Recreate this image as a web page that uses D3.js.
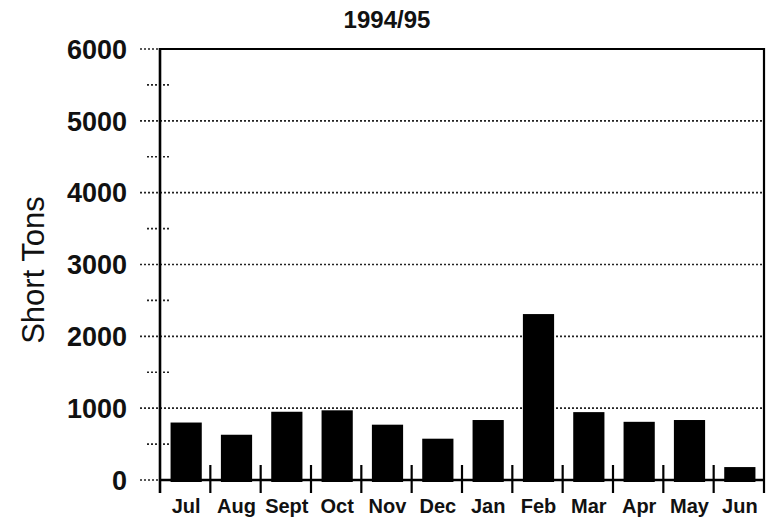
<!DOCTYPE html>
<html>
<head>
<meta charset="utf-8">
<script src="https://cdn.jsdelivr.net/npm/d3@7"></script>
<style>
  body { margin: 0; background: #fff; }
  text { font-family: "Liberation Sans", Arial, sans-serif; fill: #111; }
</style>
</head>
<body>
<script>
// monthly shipments, 1994/95 season
var months = ["Jul", "Aug", "Sept", "Oct", "Nov", "Dec", "Jan", "Feb", "Mar", "Apr", "May", "Jun"];
var tons = [800, 630, 950, 970, 770, 575, 835, 2310, 945, 810, 835, 180];
var majorTicks = [0, 1000, 2000, 3000, 4000, 5000, 6000];
var minorTicks = [500, 1500, 2500, 3500, 4500, 5500];

var width = 768, height = 522;
// note: "top" is reserved on window, so use plot* names
var plotLeft = 160, plotRight = 764, plotTop = 49, plotBottom = 480;

var svg = d3.select("body").append("svg")
    .attr("width", width)
    .attr("height", height);

var x = d3.scaleBand()
    .domain(months)
    .range([plotLeft, plotRight]);

var y = d3.scaleLinear()
    .domain([0, 6000])
    .range([plotBottom, plotTop]);

// dotted gridlines
svg.selectAll(".grid")
    .data(majorTicks)
    .enter().append("line")
    .attr("x1", 140)
    .attr("x2", function(d) { return (d == 0 || d == 6000) ? plotLeft : plotRight; })
    .attr("y1", function(d) { return y(d); })
    .attr("y2", function(d) { return y(d); })
    .attr("stroke", "#222")
    .attr("stroke-width", 1.6)
    .attr("stroke-dasharray", "2,2");

svg.selectAll(".minor")
    .data(minorTicks)
    .enter().append("line")
    .attr("x1", 147)
    .attr("x2", 171)
    .attr("y1", function(d) { return y(d); })
    .attr("y2", function(d) { return y(d); })
    .attr("stroke", "#222")
    .attr("stroke-width", 1.6)
    .attr("stroke-dasharray", "2,2");

// bars
var barW = x.bandwidth() * 0.62;
svg.selectAll(".bar")
    .data(tons)
    .enter().append("rect")
    .attr("x", function(d, i) { return x(months[i]) + (x.bandwidth() - barW) / 2 + 1; })
    .attr("y", function(d) { return y(d); })
    .attr("width", barW)
    .attr("height", function(d) { return y(0) - y(d) + 2; })
    .attr("fill", "#000");

// frame: top, left axis, right edge, baseline
svg.append("line").attr("x1", plotLeft).attr("x2", plotRight).attr("y1", plotTop).attr("y2", plotTop)
    .attr("stroke", "#000").attr("stroke-width", 2.2);
svg.append("line").attr("x1", plotLeft).attr("x2", plotLeft).attr("y1", plotTop - 1).attr("y2", 493)
    .attr("stroke", "#000").attr("stroke-width", 2.6);
svg.append("line").attr("x1", plotRight).attr("x2", plotRight).attr("y1", plotTop - 1).attr("y2", 493)
    .attr("stroke", "#000").attr("stroke-width", 2.2);
svg.append("line").attr("x1", plotLeft).attr("x2", plotRight).attr("y1", y(0)).attr("y2", y(0))
    .attr("stroke", "#000").attr("stroke-width", 2.4);

// category separators
svg.selectAll(".sep")
    .data(months.slice(1))
    .enter().append("line")
    .attr("x1", function(d) { return x(d); })
    .attr("x2", function(d) { return x(d); })
    .attr("y1", 465)
    .attr("y2", 493)
    .attr("stroke", "#000")
    .attr("stroke-width", 2.2);

// y tick labels
svg.selectAll(".ylab")
    .data(majorTicks)
    .enter().append("text")
    .attr("x", 127)
    .attr("y", function(d) { return y(d); })
    .attr("dy", "0.36em")
    .attr("text-anchor", "end")
    .attr("font-size", 27)
    .attr("font-weight", "bold")
    .text(function(d) { return d; });

// x labels
svg.selectAll(".xlab")
    .data(months)
    .enter().append("text")
    .attr("x", function(d) { return x(d) + x.bandwidth() / 2 + 1; })
    .attr("y", 513)
    .attr("text-anchor", "middle")
    .attr("font-size", 20)
    .attr("font-weight", "bold")
    .text(function(d) { return d; });

// title
svg.append("text")
    .attr("x", 387)
    .attr("y", 28)
    .attr("text-anchor", "middle")
    .attr("font-size", 24)
    .attr("font-weight", "bold")
    .text("1994/95");

svg.append("text")
    .attr("transform", "translate(44,270) rotate(-90)")
    .attr("text-anchor", "middle")
    .attr("font-size", 31)
    .text("Short Tons");
</script>
</body>
</html>
